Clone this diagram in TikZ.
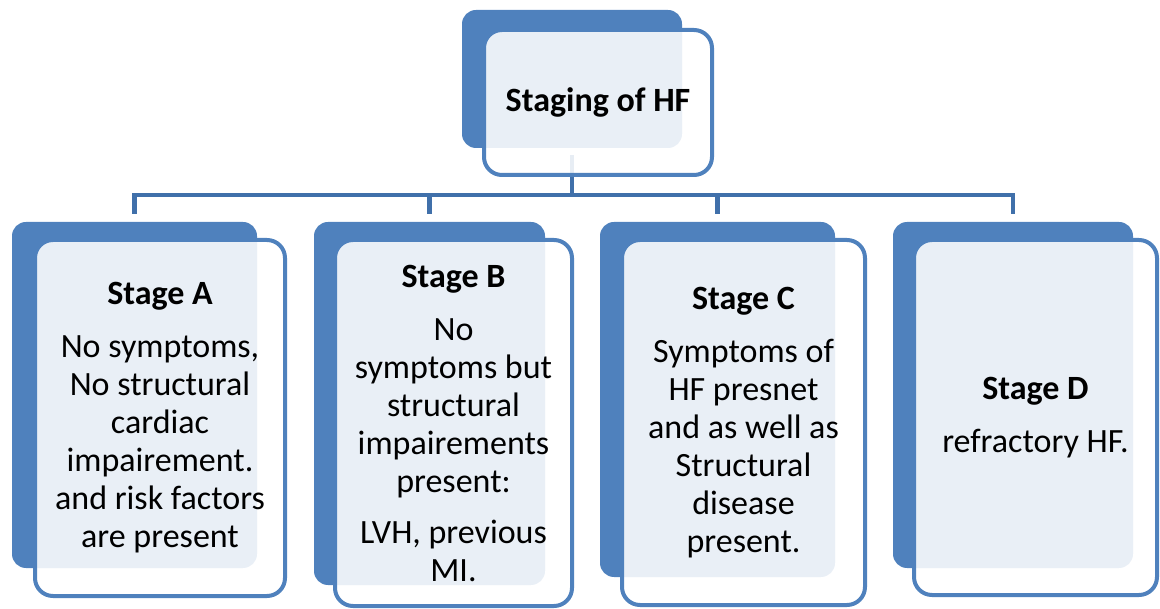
\documentclass[tikz,border=0pt]{standalone}
\usepackage{fontspec}
\setmainfont{Carlito}
\pgfdeclarelayer{bg}
\pgfsetlayers{bg,main}
\definecolor{hfblue}{RGB}{79,129,189}
\definecolor{hfline}{RGB}{64,112,170}
\tikzset{
  backbox/.style={fill=hfblue, draw=none, rounded corners=14pt, inner sep=0pt, outer sep=0pt},
  frontbox/.style={draw=hfblue, line width=4pt, rounded corners=18pt, fill=white, fill opacity=0.88,
    text opacity=1, text=black, align=center, inner sep=0pt, outer sep=0pt,
    font=\fontsize{34}{38}\selectfont},
  conn/.style={draw=hfline, line width=4.5pt},
}
\begin{document}
\begin{tikzpicture}[x=1pt,y=-1pt]
\useasboundingbox (0,0) rectangle (1160,609);

% top
\node[backbox, minimum width=220pt, minimum height=138pt] (topback) at (572,79) {};
\node[frontbox, minimum width=228pt, minimum height=145pt] (topfront) at (598,102.5) {\textbf{Staging of HF}};

% stage A
\node[backbox, minimum width=245pt, minimum height=346pt] (Aback) at (134.5,395) {};
\node[frontbox, minimum width=250pt, minimum height=356pt] (Afront) at (160,418)
  {\textbf{Stage A}\\[15pt] No symptoms,\\ No structural\\ cardiac\\ impairement.\\ and risk factors\\ are present};

% stage B
\node[backbox, minimum width=231pt, minimum height=363pt] (Bback) at (429.5,403.5) {};
\node[frontbox, minimum width=237pt, minimum height=366pt] (Bfront) at (453.5,423)
  {\textbf{Stage B}\\[15pt] No\\ symptoms but\\ structural\\ impairements\\ present:\\[13pt] LVH, previous\\ MI.};

% stage C
\node[backbox, minimum width=235pt, minimum height=355pt] (Cback) at (717.5,399.5) {};
\node[frontbox, minimum width=243pt, minimum height=365pt] (Cfront) at (743.5,422.5)
  {\textbf{Stage C}\\[15pt] Symptoms of\\ HF presnet\\ and as well as\\ Structural\\ disease\\ present.};

% stage D
\node[backbox, minimum width=240pt, minimum height=346pt] (Dback) at (1013,395) {};
\node[frontbox, minimum width=243pt, minimum height=355pt] (Dfront) at (1035.5,417.5)
  {\textbf{Stage D}\\[15pt] refractory HF.};

% connectors
\begin{pgfonlayer}{bg}
\coordinate (bus) at (572,195);
\draw[conn, shorten <=7pt] (topback.south) -- (bus);
\foreach \n in {Aback,Bback,Cback,Dback}
  \draw[conn, shorten >=8pt] (bus) -| (\n.north);
\end{pgfonlayer}
\end{tikzpicture}
\end{document}
